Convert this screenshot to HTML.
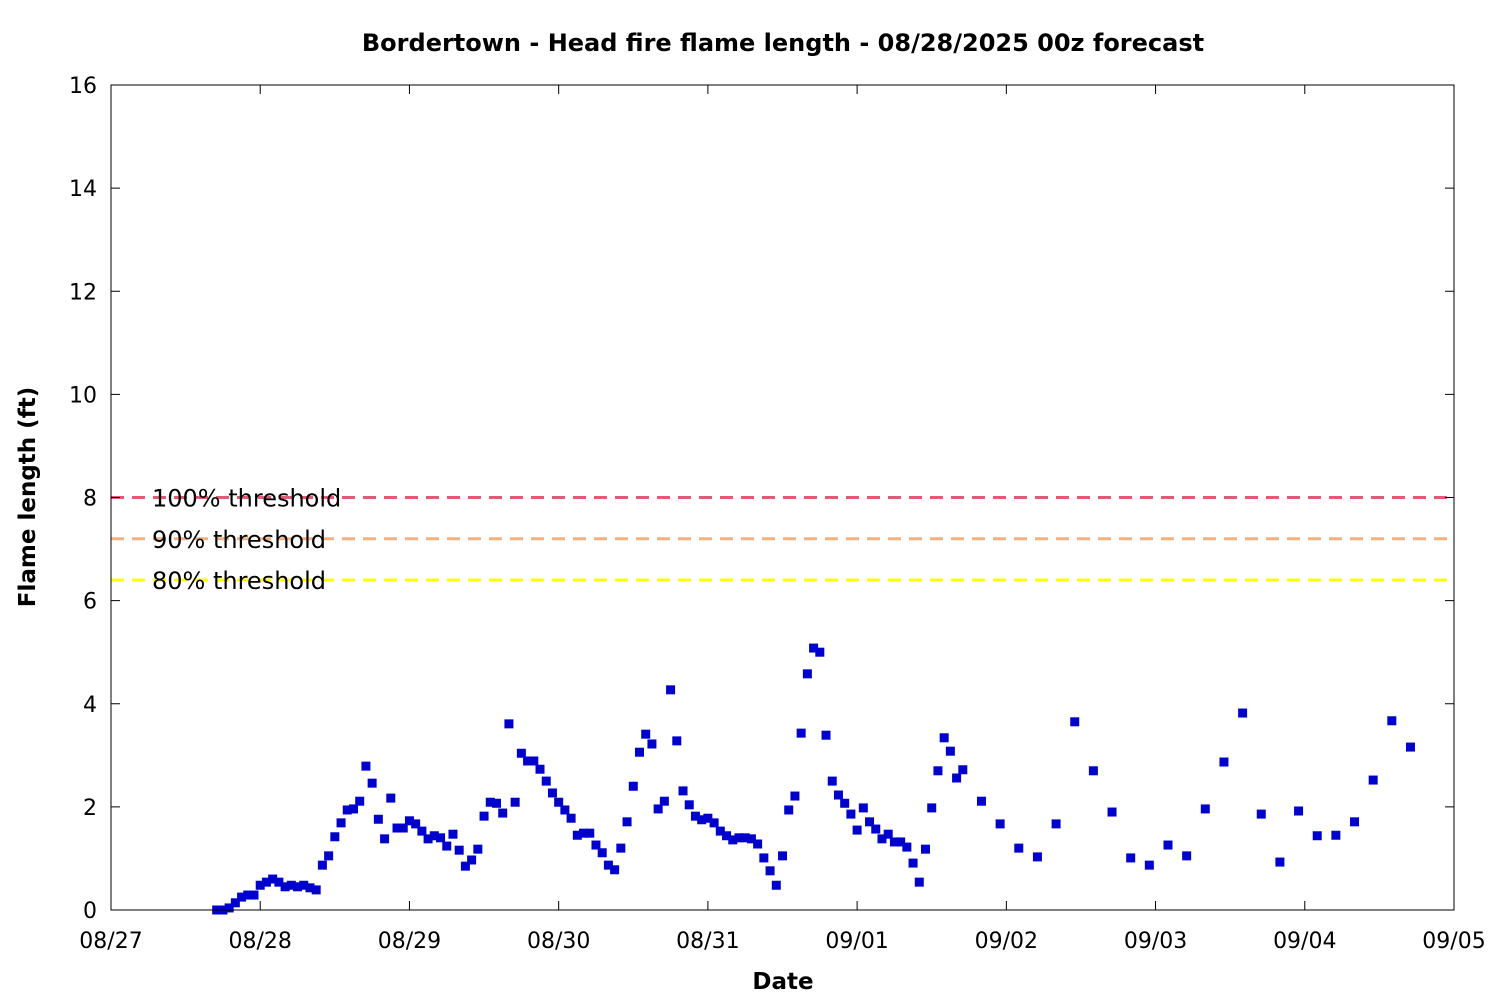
<!DOCTYPE html>
<html><head><meta charset="utf-8"><style>
html,body{margin:0;padding:0;background:#fff;}
svg{display:block;font-family:"DejaVu Sans","Liberation Sans",sans-serif;}
</style></head><body>
<svg id="chart" width="1500" height="1000" viewBox="0 0 1500 1000" xmlns="http://www.w3.org/2000/svg">
<text x="783" y="51" text-anchor="middle" font-size="24" font-weight="bold">Bordertown - Head fire flame length - 08/28/2025 00z forecast</text>
<text x="783" y="989" text-anchor="middle" font-size="23" font-weight="bold">Date</text>
<text transform="translate(35,497) rotate(-90)" text-anchor="middle" font-size="23" font-weight="bold">Flame length (ft)</text>
<g id="thresholds"></g>
<g id="axes"></g>
<g id="points"></g>
<rect x="111" y="85" width="1343" height="825" fill="none" stroke="#000" stroke-width="1"/>
</svg>
<script>
const xTickLabels = ["08/27","08/28","08/29","08/30","08/31","09/01","09/02","09/03","09/04","09/05"];
const yTicks = [0,2,4,6,8,10,12,14,16];
const hourlyStart = 17;
const hourlyValues = [0.0,0.0,0.04,0.14,0.25,0.29,0.29,0.48,0.54,0.6,0.54,0.45,0.48,0.45,0.48,0.43,0.39,0.87,1.05,1.42,1.69,1.94,1.96,2.11,2.79,2.46,1.76,1.38,2.17,1.59,1.59,1.73,1.67,1.53,1.38,1.44,1.4,1.24,1.47,1.16,0.85,0.97,1.18,1.82,2.09,2.07,1.88,3.61,2.09,3.04,2.89,2.89,2.73,2.5,2.27,2.09,1.94,1.78,1.45,1.49,1.49,1.26,1.11,0.87,0.78,1.2,1.71,2.4,3.06,3.41,3.22,1.96,2.11,4.27,3.28,2.31,2.04,1.82,1.75,1.78,1.69,1.53,1.44,1.36,1.4,1.4,1.38,1.28,1.01,0.76,0.48,1.05,1.94,2.21,3.43,4.58,5.08,5.0,3.39,2.5,2.23,2.07,1.86,1.55,1.98,1.71,1.57,1.38,1.47,1.32,1.32,1.22,0.91,0.54,1.18,1.98,2.7,3.34,3.08,2.56,2.72];
const threeHourlyStart = 140;
const threeHourlyValues = [2.11,1.67,1.2,1.03,1.67,3.65,2.7,1.9,1.01,0.87,1.26,1.05,1.96,2.87,3.82,1.86,0.93,1.92,1.44,1.45,1.71,2.52,3.67,3.16];
const thresholdLabels = ["100% threshold","90% threshold","80% threshold"];
const thresholdValues = [8,7.2,6.4];
const thresholdColors = ["#e45a76","#f4b07e","#ffff00"];

const NS="http://www.w3.org/2000/svg";
const X0=111,X1=1454,Y0=910,Y1=85;
const xScale=h=>X0+(h/(24*9))*(X1-X0);
const yScale=v=>Y0-(v/16)*(Y0-Y1);
function mk(tag,attrs,parent){const e=document.createElementNS(NS,tag);for(const k in attrs)e.setAttribute(k,attrs[k]);parent.appendChild(e);return e;}
const axes=document.getElementById('axes');
yTicks.forEach(v=>{const y=yScale(v);
  const t=mk('line',{x1:X0,x2:X0+9,y1:y,y2:y,stroke:'#000'},axes);
  
  
  const t2=mk('line',{x1:X1-9,x2:X1,y1:y,y2:y,stroke:'#000'},axes);
  
  
  const l=mk('text',{x:X0-14,y:y+8,'text-anchor':'end','font-size':22},axes);l.textContent=v;
  
  
});
xTickLabels.forEach((s,i)=>{const x=xScale(i*24);
  const t=mk('line',{x1:x,x2:x,y1:Y0,y2:Y0-9,stroke:'#000'},axes);
  
  
  const t2=mk('line',{x1:x,x2:x,y1:Y1,y2:Y1+9,stroke:'#000'},axes);
  
  
  const l=mk('text',{x:x,y:Y0+38,'text-anchor':'middle','font-size':22},axes);l.textContent=s;
  
  
});
const th=document.getElementById('thresholds');
thresholdValues.forEach((v,i)=>{const y=yScale(v);
  const ln=mk('line',{x1:X0,x2:X1,y1:y,y2:y,stroke:thresholdColors[i],'stroke-width':3,'stroke-dasharray':'13,8'},th);
  
  
  const l=mk('text',{x:152,y:y+9,'font-size':24},th);l.textContent=thresholdLabels[i];
  
  
});
const pts=document.getElementById('points');
function drawPt(h,v){const r=mk('rect',{x:xScale(h)-4.5,y:yScale(v)-4.5,width:9,height:9,fill:'#0000cd'},pts);
  
  }
hourlyValues.forEach((v,i)=>drawPt(hourlyStart+i,v));
threeHourlyValues.forEach((v,i)=>drawPt(threeHourlyStart+3*i,v));
</script>
</body></html>
